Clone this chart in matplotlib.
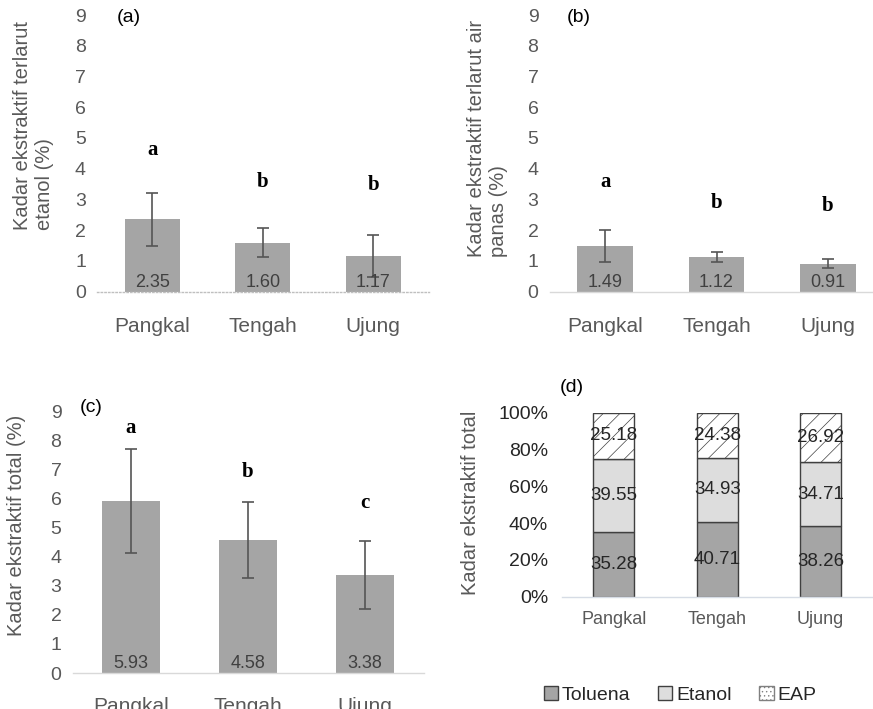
import numpy as np
import matplotlib
matplotlib.use('Agg')
from matplotlib import pyplot as plt
from matplotlib.patches import Patch

plt.rcParams['font.family'] = ['Liberation Sans', 'DejaVu Sans']
plt.rcParams['hatch.linewidth'] = 0.5

W, H = 873, 709

categories = ['Pangkal', 'Tengah', 'Ujung']

# (a) etanol
etanol_mean = [2.35, 1.60, 1.17]
etanol_err = [0.87, 0.47, 0.68]
etanol_letters = ['a', 'b', 'b']
etanol_letter_y = [4.6, 3.57, 3.47]

# (b) air panas
panas_mean = [1.49, 1.12, 0.91]
panas_err = [0.53, 0.17, 0.14]
panas_letters = ['a', 'b', 'b']
panas_letter_y = [3.58, 2.88, 2.8]

# (c) total
total_mean = [5.93, 4.58, 3.38]
total_err = [1.80, 1.32, 1.17]
total_letters = ['a', 'b', 'c']
total_letter_y = [8.45, 6.94, 5.86]

# (d) komposisi
toluena = [35.28, 40.71, 38.26]
etanol = [39.55, 34.93, 34.71]
eap = [25.18, 24.38, 26.92]

TICK_C = '#595959'
BAR_C = '#a5a5a5'


def px_axes(left, right, top, bottom):
    return fig.add_axes([left / W, 1 - bottom / H,
                         (right - left) / W, (bottom - top) / H])


def clean_ax(ax, line_c, line_ls='-'):
    for s in ['top', 'right', 'left']:
        ax.spines[s].set_visible(False)
    ax.spines['bottom'].set_color(line_c)
    ax.spines['bottom'].set_linestyle(line_ls)
    ax.spines['bottom'].set_linewidth(1.0)
    ax.tick_params(length=0, colors=TICK_C)


def bar_panel(ax, mean, err, letters, letter_y, xpad, line_c, line_ls='-'):
    x = np.arange(len(categories))
    ax.bar(x, mean, width=0.5, color=BAR_C, zorder=2)
    ax.errorbar(x, mean, yerr=err, fmt='none', ecolor='#555555',
                elinewidth=1.2, capsize=4, capthick=1.2, zorder=3)
    for xi, m in zip(x, mean):
        ax.annotate('%.2f' % m, (xi, 0), xytext=(0, 0.5),
                    textcoords='offset points', ha='center', va='bottom',
                    fontsize=13, color='#404040', zorder=4)
    for xi, l, ly in zip(x, letters, letter_y):
        ax.text(xi, ly, l, ha='center', va='center', fontsize=15,
                fontweight='bold', family='Liberation Serif', color='k')
    ax.set_xlim(-0.5, 2.5)
    ax.set_ylim(0, 9)
    ax.set_yticks(range(10))
    ax.set_xticks(x)
    ax.set_xticklabels(categories, fontsize=15)
    ax.tick_params(axis='y', labelsize=14, pad=8)
    ax.tick_params(axis='x', pad=xpad)
    clean_ax(ax, line_c, line_ls)


fig = plt.figure(figsize=(W / 100, H / 100), dpi=100)

ax_a = px_axes(97, 428.5, 15, 291.7)
bar_panel(ax_a, etanol_mean, etanol_err, etanol_letters, etanol_letter_y,
          18, '#bfbfbf', ':')
ax_b = px_axes(549.5, 883.5, 15, 291.7)
bar_panel(ax_b, panas_mean, panas_err, panas_letters, panas_letter_y,
          18, '#d9d9d9')
ax_c = px_axes(72.5, 423.5, 411.7, 673)
bar_panel(ax_c, total_mean, total_err, total_letters, total_letter_y,
          17, '#d9d9d9')

# (d) stacked 100%
ax_d = px_axes(562, 872.5, 412.7, 596.7)
tol = np.array(toluena)
eta = np.array(etanol)
ea = np.array(eap)
tot = tol + eta + ea
p_tol = tol / tot * 100
p_eta = eta / tot * 100
p_ea = ea / tot * 100
x = np.arange(len(categories))
ax_d.bar(x, p_tol, width=0.4, color='#a5a5a5', edgecolor='#404040', lw=1.0)
ax_d.bar(x, p_eta, width=0.4, bottom=p_tol, color='#dddddd',
         edgecolor='#404040', lw=1.0)
ax_d.bar(x, p_ea, width=0.4, bottom=p_tol + p_eta, color='white',
         edgecolor='#404040', lw=1.0, hatch='//')
for xi in x:
    ax_d.text(xi, p_tol[xi] / 2, '%.2f' % toluena[xi], ha='center',
              va='center', fontsize=13.5, color='#262626')
    ax_d.text(xi, p_tol[xi] + p_eta[xi] / 2, '%.2f' % etanol[xi],
              ha='center', va='center', fontsize=13.5, color='#262626')
    ax_d.text(xi, p_tol[xi] + p_eta[xi] + p_ea[xi] / 2, '%.2f' % eap[xi],
              ha='center', va='center', fontsize=13.5, color='#262626')
ax_d.set_xlim(-0.5, 2.5)
ax_d.set_ylim(0, 100)
ax_d.set_yticks(range(0, 101, 20))
ax_d.set_yticklabels(['%d%%' % v for v in range(0, 101, 20)], fontsize=14,
                     color='#262626')
ax_d.set_xticks(x)
ax_d.set_xticklabels(categories, fontsize=13)
clean_ax(ax_d, '#d6dce5')
ax_d.tick_params(axis='y', pad=10, labelcolor='#262626')
ax_d.tick_params(axis='x', pad=10)

# y labels
fig.text(34 / W, 1 - 230 / H, 'Kadar ekstraktif terlarut\netanol (%)',
         rotation=90, ha='center', va='bottom', multialignment='left',
         fontsize=14.5, color=TICK_C, linespacing=1.2)
fig.text(487 / W, 1 - 257 / H, 'Kadar ekstraktif terlarut air\npanas (%)',
         rotation=90, ha='center', va='bottom', multialignment='left',
         fontsize=14.5, color=TICK_C, linespacing=1.2)
fig.text(17 / W, 1 - 525 / H, 'Kadar ekstraktif total (%)',
         rotation=90, ha='center', va='center', fontsize=14.5, color=TICK_C)
fig.text(470 / W, 1 - 503 / H, 'Kadar ekstraktif total',
         rotation=90, ha='center', va='center', fontsize=14.5, color=TICK_C)

# panel labels
for lab, px, py in [('(a)', 117, 18), ('(b)', 567, 18),
                    ('(c)', 80, 407), ('(d)', 560, 387)]:
    fig.text(px / W, 1 - py / H, lab, ha='left', va='center', fontsize=14,
             color='k')

handles = [Patch(facecolor='#a5a5a5', edgecolor='#404040', label='Toluena'),
           Patch(facecolor='#dddddd', edgecolor='#404040', label='Etanol'),
           Patch(facecolor='white', edgecolor='#808080', hatch='....',
                 label='EAP')]
fig.legend(handles=handles, loc='center', bbox_to_anchor=(680 / W, 1 - 695 / H),
           ncol=3, frameon=False, fontsize=14, handlelength=0.75,
           handleheight=0.75, handletextpad=0.2, columnspacing=1.4,
           labelcolor='#262626')

fig.savefig('out.png', dpi=100)
